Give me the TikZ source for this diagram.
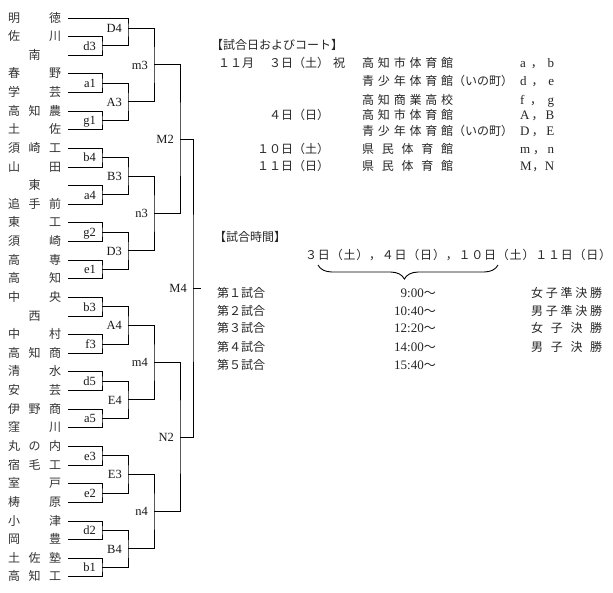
\documentclass[tikz,border=0pt]{standalone}
\usepackage{fontspec}
\setmainfont{Liberation Serif}
\newfontfamily\jp{Noto Sans CJK JP}
\usetikzlibrary{calc,decorations.pathreplacing}
\makeatletter
\def\spr@ad#1{\ifx#1\relax\else\hfill#1\expandafter\spr@ad\fi}
\def\spr@adfirst#1{#1\spr@ad}
\newcommand\spreadto[2]{\makebox[#1][s]{\spr@adfirst#2\relax}}
\makeatother
\newcommand\courts[2]{\makebox[34pt][s]{\rmfamily\fontsize{13}{13}\selectfont #1\hfill{\jp\fontsize{12}{12}\selectfont ，}\hfill\rmfamily\fontsize{13}{13}\selectfont #2}}
\newcommand\mkteam[2]{%
  \node[team] (tm#1) at (8,{18+18.63*(#1-1)}) {#2};
  \coordinate (p#1) at (68,{18+18.63*(#1-1)});}
\newcommand\mkmatch[5]{%
  \path ($(#2)!.5!(#3)$) ++(#4,0) coordinate (#1);
  \draw[ln] (#2) -| (#1) |- (#3);
  \node[lbl] (L#1) at ([xshift=-6pt]#1) {#5};}
\begin{document}
\begin{tikzpicture}[x=1pt,y=-1pt,
  ln/.style={line width=1pt, black},
  team/.style={anchor=west, inner sep=0pt, text=black!80, font=\jp\fontsize{12}{12}\selectfont, text height=10pt, text depth=2pt},
  lbl/.style={anchor=east, inner sep=0pt, text=black!90, font=\rmfamily\fontsize{12.5}{12.5}\selectfont, text height=8.5pt, text depth=0pt},
  txt/.style={anchor=west, inner sep=0pt, text=black!85, font=\jp\fontsize{12}{12}\selectfont, text height=10pt, text depth=2pt},
  tim/.style={anchor=east, inner sep=0pt, text=black!85, font=\rmfamily\fontsize{13}{13}\selectfont, text height=10pt, text depth=2pt}]
\fill[white] (0,0) rectangle (613,592);
\useasboundingbox (0,0) rectangle (613,592);
% teams
\mkteam{1}{\spreadto{53pt}{明徳}}
\mkteam{2}{\spreadto{53pt}{佐川}}
\mkteam{3}{\makebox[53pt][c]{南}}
\mkteam{4}{\spreadto{53pt}{春野}}
\mkteam{5}{\spreadto{53pt}{学芸}}
\mkteam{6}{\spreadto{53pt}{高知農}}
\mkteam{7}{\spreadto{53pt}{土佐}}
\mkteam{8}{\spreadto{53pt}{須崎工}}
\mkteam{9}{\spreadto{53pt}{山田}}
\mkteam{10}{\makebox[53pt][c]{東}}
\mkteam{11}{\spreadto{53pt}{追手前}}
\mkteam{12}{\spreadto{53pt}{東工}}
\mkteam{13}{\spreadto{53pt}{須崎}}
\mkteam{14}{\spreadto{53pt}{高専}}
\mkteam{15}{\spreadto{53pt}{高知}}
\mkteam{16}{\spreadto{53pt}{中央}}
\mkteam{17}{\makebox[53pt][c]{西}}
\mkteam{18}{\spreadto{53pt}{中村}}
\mkteam{19}{\spreadto{53pt}{高知商}}
\mkteam{20}{\spreadto{53pt}{清水}}
\mkteam{21}{\spreadto{53pt}{安芸}}
\mkteam{22}{\spreadto{53pt}{伊野商}}
\mkteam{23}{\spreadto{53pt}{窪川}}
\mkteam{24}{\spreadto{53pt}{丸の内}}
\mkteam{25}{\spreadto{53pt}{宿毛工}}
\mkteam{26}{\spreadto{53pt}{室戸}}
\mkteam{27}{\spreadto{53pt}{梼原}}
\mkteam{28}{\spreadto{53pt}{小津}}
\mkteam{29}{\spreadto{53pt}{岡豊}}
\mkteam{30}{\spreadto{53pt}{土佐塾}}
\mkteam{31}{\spreadto{53pt}{高知工}}
% first round
\mkmatch{d3}{p2}{p3}{34}{d3}
\mkmatch{a1}{p4}{p5}{34}{a1}
\mkmatch{g1}{p6}{p7}{34}{g1}
\mkmatch{b4}{p8}{p9}{34}{b4}
\mkmatch{a4}{p10}{p11}{34}{a4}
\mkmatch{g2}{p12}{p13}{34}{g2}
\mkmatch{e1}{p14}{p15}{34}{e1}
\mkmatch{b3}{p16}{p17}{34}{b3}
\mkmatch{f3}{p18}{p19}{34}{f3}
\mkmatch{d5}{p20}{p21}{34}{d5}
\mkmatch{a5}{p22}{p23}{34}{a5}
\mkmatch{e3}{p24}{p25}{34}{e3}
\mkmatch{e2}{p26}{p27}{34}{e2}
\mkmatch{d2}{p28}{p29}{34}{d2}
\mkmatch{b1}{p30}{p31}{34}{b1}
% second round
\coordinate (D4) at (128,28);
\draw[ln] (p1) -| (D4) |- (d3);
\node[lbl] (LD4) at ([xshift=-6pt]D4) {D4};
\mkmatch{A3}{a1}{g1}{26}{A3}
\mkmatch{B3}{b4}{a4}{26}{B3}
\mkmatch{D3}{g2}{e1}{26}{D3}
\mkmatch{A4}{b3}{f3}{26}{A4}
\mkmatch{E4}{d5}{a5}{26}{E4}
\mkmatch{E3}{e3}{e2}{26}{E3}
\mkmatch{B4}{d2}{b1}{26}{B4}
% third round
\mkmatch{m3}{D4}{A3}{26}{m3}
\mkmatch{n3}{B3}{D3}{26}{n3}
\mkmatch{m4}{A4}{E4}{26}{m4}
\mkmatch{n4}{E3}{B4}{26}{n4}
% semifinal and final
\mkmatch{M2}{m3}{n3}{26}{M2}
\mkmatch{N2}{m4}{n4}{26}{N2}
\mkmatch{M4}{M2}{N2}{13}{M4}
\path (M4) ++(8,0) coordinate (M4e);
\draw[ln] (M4) -- (M4e);
% schedule table
\node[txt] (h1) at (211,45) {【試合日およびコート】};
\node[txt] (r1d) at (218,63.3) {１１月};
\node[txt] (r1e) at (269,63.3) {３日（土）\hspace{4pt}祝};
\node[txt] (r1v) at (362,63.3) {\spreadto{91pt}{高知市体育館}};
\node[txt] (r1c) at (520,63.3) {\courts{a}{b}};
\node[txt] (r2v) at (362,81.7) {\spreadto{91pt}{青少年体育館}（いの町）};
\node[txt] (r2c) at (520,81.7) {\courts{d}{e}};
\node[txt] (r3v) at (362,100) {\spreadto{91pt}{高知商業高校}};
\node[txt] (r3c) at (520,100) {\courts{f}{g}};
\node[txt] (r4e) at (269,115) {４日（日）};
\node[txt] (r4v) at (362,115) {\spreadto{91pt}{高知市体育館}};
\node[txt] (r4c) at (520,115) {\courts{A}{B}};
\node[txt] (r5v) at (362,131.7) {\spreadto{91pt}{青少年体育館}（いの町）};
\node[txt] (r5c) at (520,131.7) {\courts{D}{E}};
\node[txt] (r6e) at (257,149.3) {１０日（土）};
\node[txt] (r6v) at (362,149.3) {\spreadto{91pt}{県民体育館}};
\node[txt] (r6c) at (520,149.3) {\courts{m}{n}};
\node[txt] (r7e) at (257,166.7) {１１日（日）};
\node[txt] (r7v) at (362,166.7) {\spreadto{91pt}{県民体育館}};
\node[txt] (r7c) at (520,166.7) {\courts{M}{N}};
% time table
\node[txt] (h2) at (214,237) {【試合時間】};
\node[txt] (dates) at (305,255) {\spreadto{306pt}{３日（土），４日（日），１０日（土）１１日（日）}};
\coordinate (brR) at (498,265);
\coordinate (brL) at (318,265);
\draw[decorate, decoration={brace, amplitude=14pt, aspect=0.52}, line width=0.9pt] (brR) -- (brL);
\node[txt] (g1n) at (217,293) {第１試合};
\node[txt] (g2n) at (217,311) {第２試合};
\node[txt] (g3n) at (217,328.5) {第３試合};
\node[txt] (g4n) at (217,347) {第４試合};
\node[txt] (g5n) at (217,365) {第５試合};
\node[tim] (t1) at (436,293) {9:00{\jp\fontsize{12}{12}\selectfont ～}};
\node[tim] (t2) at (436,311) {10:40{\jp\fontsize{12}{12}\selectfont ～}};
\node[tim] (t3) at (436,328.5) {12:20{\jp\fontsize{12}{12}\selectfont ～}};
\node[tim] (t4) at (436,347) {14:00{\jp\fontsize{12}{12}\selectfont ～}};
\node[tim] (t5) at (436,365) {15:40{\jp\fontsize{12}{12}\selectfont ～}};
\node[txt] (w1) at (531,293) {\spreadto{71pt}{女子準決勝}};
\node[txt] (w2) at (531,311) {\spreadto{71pt}{男子準決勝}};
\node[txt] (w3) at (531,328.5) {\spreadto{71pt}{女子決勝}};
\node[txt] (w4) at (531,347) {\spreadto{71pt}{男子決勝}};
\end{tikzpicture}
\end{document}
